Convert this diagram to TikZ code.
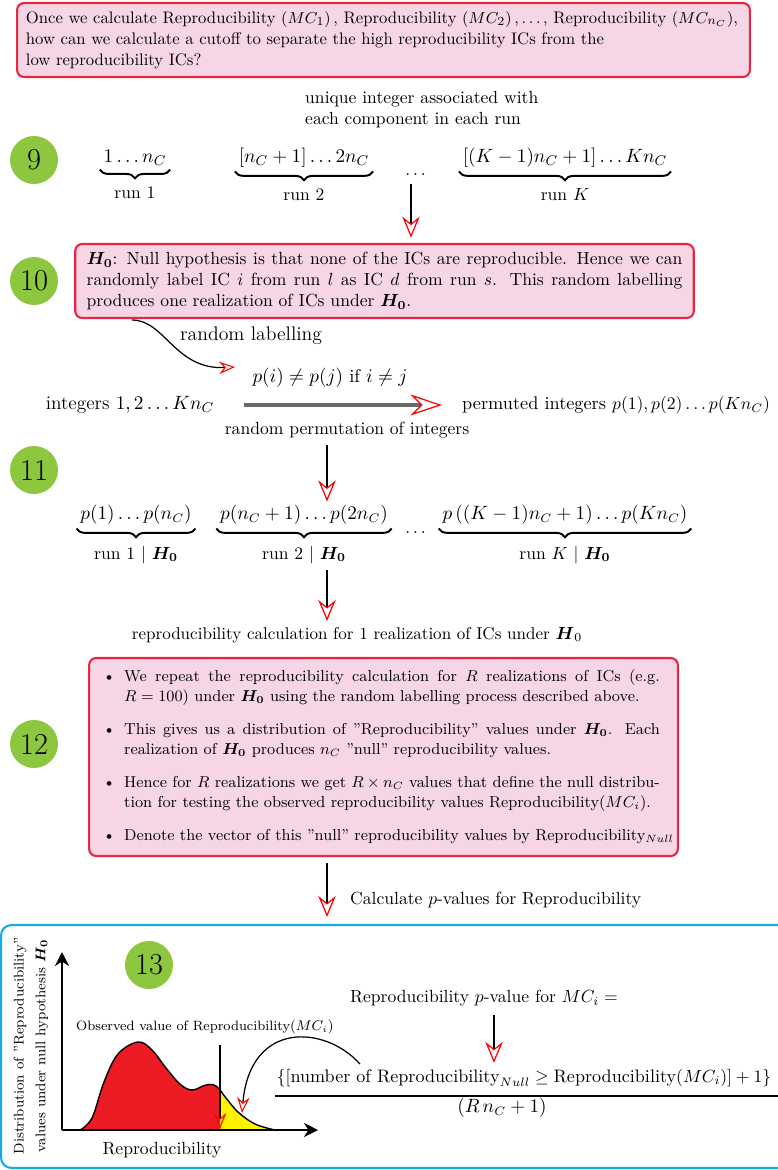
\documentclass[tikz,border=0pt]{standalone}
\usepackage{amsmath,amssymb}
\usepackage{enumitem}
\usepackage{tikz}
\usetikzlibrary{arrows.meta,positioning,calc,decorations.pathreplacing}
\definecolor{boxred}{RGB}{232,38,68}
\definecolor{boxpink}{RGB}{246,214,228}
\definecolor{ballgreen}{RGB}{141,198,63}
\definecolor{frameblue}{RGB}{24,170,228}
\definecolor{distred}{RGB}{237,28,36}
\definecolor{distyel}{RGB}{255,242,0}
\definecolor{arrgray}{RGB}{105,105,105}
\newcommand{\Hnull}{\boldsymbol{H_0}}
\newcommand{\fsz}[1]{\fontsize{#1}{1.2\dimexpr #1pt\relax}\selectfont}
\newcommand{\nullcurve}{plot[smooth, tension=0.6] coordinates {(1.6,-22.6) (1.84,-22.36)
  (2.08,-21.64) (2.36,-21.08) (2.76,-20.84) (3.04,-21.0) (3.32,-21.36) (3.6,-21.68)
  (3.84,-21.8) (4.12,-21.7) (4.32,-21.72) (4.52,-21.96) (4.76,-22.24) (5.1,-22.48) (5.5,-22.6)}}
\tikzset{
  ball/.style={circle, fill=ballgreen, minimum size=0.96cm, inner sep=0pt, font=\LARGE},
  pbox/.style={draw=boxred, fill=boxpink, line width=1.2pt, rounded corners=4pt},
  seq/.style={inner sep=2pt},
  brc/.style={decorate, decoration={brace, mirror, amplitude=5pt}, line width=1.1pt},
  darr/.style={line width=1pt, -{Stealth[open, color=red, length=12pt, width=10pt, inset=4pt, line width=0.7pt]}},
  carr/.style={line width=0.7pt, -{Stealth[open, color=red, length=9pt, width=7pt, inset=3pt, line width=0.6pt]}},
  garr/.style={line width=2pt, arrgray, -{Stealth[open, color=red, length=18pt, width=12pt, inset=6pt, line width=0.7pt]}},
  axs/.style={line width=1.3pt, -{Stealth[length=8pt, width=8pt]}},
  crv/.style={line width=0.8pt},
  bfrm/.style={draw=frameblue, line width=1.2pt, rounded corners=6pt},
}
\begin{document}
\begin{tikzpicture}
\useasboundingbox (0,0) rectangle (15.56,-23.4);
\clip (0,0) rectangle (15.56,-23.4);
% question
\node[pbox, text width=407pt, inner xsep=5pt, align=left, minimum height=1.48cm, font=\fontsize{9.5}{12}\selectfont] (qbox) at (7.67,-0.8)
  {\mbox{Once we calculate Reproducibility $\left(MC_1\right),$ Reproducibility $\left(MC_2\right),\ldots,$ Reproducibility $\left(MC_{n_C}\right)$,}\\
   how can we calculate a cutoff to separate the high reproducibility ICs from the\\
   low reproducibility ICs?};
\node[anchor=west, align=left] (uniq) at (5.98,-2.2) {unique integer associated with\\each component in each run};
% step 9
\node[ball] (b9) at (0.68,-3.2) {9};
\node[seq, font=\fsz{11}] (r1) at (2.7,-3.16) {$1\dots n_C$};
\node[seq, font=\fsz{11}] (r2) at (6.08,-3.16) {$[n_C+1]\dots 2n_C$};
\node[seq] (r3) at (8.34,-3.5) {$\dots$};
\node[seq, font=\fsz{11}] (rK) at (11.3,-3.16) {$[(K-1)n_C+1]\dots Kn_C$};
\draw[brc] (r1.south west) -- (r1.south east) node[midway, below=6pt] (r1l) {run 1};
\draw[brc] (r2.south west) -- (r2.south east) node[midway, below=6pt] (r2l) {run 2};
\draw[brc] (rK.south west) -- (rK.south east) node[midway, below=6pt] (rKl) {run $K$};
% step 10
\node[pbox, text width=339pt, inner xsep=6.5pt, align=justify, minimum height=1.48cm] (hbox) at (7.69,-5.62)
  {$\Hnull$: Null hypothesis is that none of the ICs are reproducible. Hence we can randomly label IC $i$ from run $l$ as IC $d$ from run $s$. This random labelling produces one realization of ICs under $\Hnull$.};
\node[ball] (b10) at (0.68,-5.62) {10};
\coordinate (a1) at (8.22,-3.68);
\draw[darr] (a1) -- ([yshift=3pt]a1 |- hbox.north);
\coordinate (rl0) at (2.64,-6.4);
\coordinate (rl1) at (4.7,-7.34);
\draw[carr] (rl0) .. controls (3.3,-6.4) and (3.5,-7.4) .. (rl1);
\node[anchor=west, font=\fsz{11.2}] (rlab) at (3.48,-6.72) {random labelling};
\node[font=\fsz{10.5}] (pij) at (6.6,-7.56) {$p(i)\neq p(j)$ if $i\neq j$};
\node[font=\fsz{11}] (ints) at (2.6,-8.1) {integers $1,2\dots Kn_C$};
\node[anchor=west, font=\fsz{10.4}] (perm) at (9.12,-8.1) {permuted integers $p(1),p(2)\dots p(Kn_C)$};
\draw[garr, shorten <=0.48cm, shorten >=0.28cm] (ints) -- (perm);
\node (rperm) at (6.94,-8.6) {random permutation of integers};
% step 11
\node[ball] (b11) at (0.68,-9.4) {11};
\node[seq, font=\fsz{10.7}] (q1) at (2.72,-10.3) {$p(1)\dots p(n_C)$};
\node[seq, font=\fsz{10.7}] (q2) at (6.08,-10.3) {$p(n_C+1)\dots p(2n_C)$};
\node[seq] (q3) at (8.34,-10.66) {$\dots$};
\node[seq, font=\fsz{10.5}] (qK) at (11.3,-10.3) {$p\,((K-1)n_C+1)\dots p(Kn_C)$};
\draw[brc] (q1.south west) -- (q1.south east) node[midway, below=6pt] (q1l) {run 1 $|$ $\Hnull$};
\draw[brc] (q2.south west) -- (q2.south east) node[midway, below=6pt] (q2l) {run 2 $|$ $\Hnull$};
\draw[brc] (qK.south west) -- (qK.south east) node[midway, below=6pt] (qKl) {run $K$ $|$ $\Hnull$};
\coordinate (a2) at (6.54,-8.9);
\draw[darr] (a2) -- (a2 |- q2.north);
\coordinate (a3) at (6.54,-11.4);
\node[font=\fsz{9.7}] (repc) at (7.14,-12.7) {reproducibility calculation for 1 realization of ICs under $\boldsymbol{H}_0$};
\draw[darr] (a3) -- (a3 |- repc.north);
% step 12
\node[pbox, inner sep=0pt, minimum width=335pt, minimum height=3.96cm] (rbox) at (7.67,-15.14)
  {\begin{minipage}{335pt}\fontsize{9.0}{11.4}\selectfont
   \begin{itemize}[leftmargin=9.7pt, rightmargin=20.5pt, labelsep=5pt, itemsep=5.4pt, parsep=2pt, topsep=0pt, partopsep=0pt]
   \item We repeat the reproducibility calculation for $R$ realizations of ICs (e.g.\linebreak $R=100$) under $\Hnull$ using the random labelling process described above.
   \item This gives us a distribution of ''Reproducibility'' values under $\Hnull$. Each realization of $\Hnull$ produces $n_C$ ''null'' reproducibility values.
   \item Hence for $R$ realizations we get $R\times n_C$ values that define the null distribu-\linebreak tion for testing the observed reproducibility values Reproducibility$(MC_i)$.
   \item \mbox{Denote the vector of this ''null'' reproducibility values by Reproducibility$_{Null}$}
   \end{itemize}
   \end{minipage}};
\node[ball] (b12) at (0.68,-14.88) {12};
\coordinate (a4) at (6.54,-17.26);
\coordinate (a4e) at (6.54,-18.34);
\draw[darr] (a4) -- (a4e);
\node[anchor=west] (pvlab) at (6.88,-18.0) {Calculate $p$-values for Reproducibility};
% step 13
\draw[bfrm] (0.02,-18.5) rectangle (15.9,-23.36);
\node[ball] (b13) at (2.98,-19.3) {13};
\fill[distred] \nullcurve -- cycle;
\begin{scope}
  \clip (4.4,-20) rectangle (6,-22.6);
  \fill[distyel] \nullcurve -- cycle;
\end{scope}
\draw[crv] \nullcurve;
\coordinate (o) at (1.24,-22.6);
\coordinate (ytop) at (1.24,-19.04);
\coordinate (xend) at (6.36,-22.6);
\draw[axs] (o) -- (ytop);
\draw[axs] (o) -- (xend);
\node[rotate=90, font=\footnotesize, align=center] (ylab) at (0.62,-20.92)
  {Distribution of ''Reproducibility''\\[3pt]values under null hypothesis $\Hnull$};
\node (xlab) at (3.24,-23.0) {Reproducibility};
\node[font=\fsz{7.7}] (oblab) at (4.1,-20.54) {Observed value of Reproducibility$(MC_i)$};
\coordinate (ob0) at (4.4,-20.9);
\coordinate (ob1) at (4.4,-22.58);
\draw[carr] (ob0) -- (ob1);
\node (pv) at (9.68,-19.96) {Reproducibility $p$-value for $MC_i=$};
\node[font=\fsz{10.3}] (numer) at (10.48,-21.56) {$\{[\text{number of Reproducibility}_{Null}\geq\text{Reproducibility}(MC_i)]+1\}$};
\node[font=\fsz{10.5}] (denom) at (10.04,-22.16) {$(R\,n_C+1)$};
\coordinate (a5) at (9.88,-20.3);
\draw[darr] (a5) -- (a5 |- numer.north);
\coordinate (fbl) at (5.5,-21.92);
\coordinate (fbr) at (15.64,-21.92);
\draw[line width=1pt] (fbl) -- (fbr);
\coordinate (cv0) at (7.2,-21.28);
\coordinate (cv1) at (4.84,-22.26);
\draw[carr] (cv0) .. controls (6.5,-20.5) and (5.0,-20.4) .. (cv1);
\end{tikzpicture}
\end{document}
